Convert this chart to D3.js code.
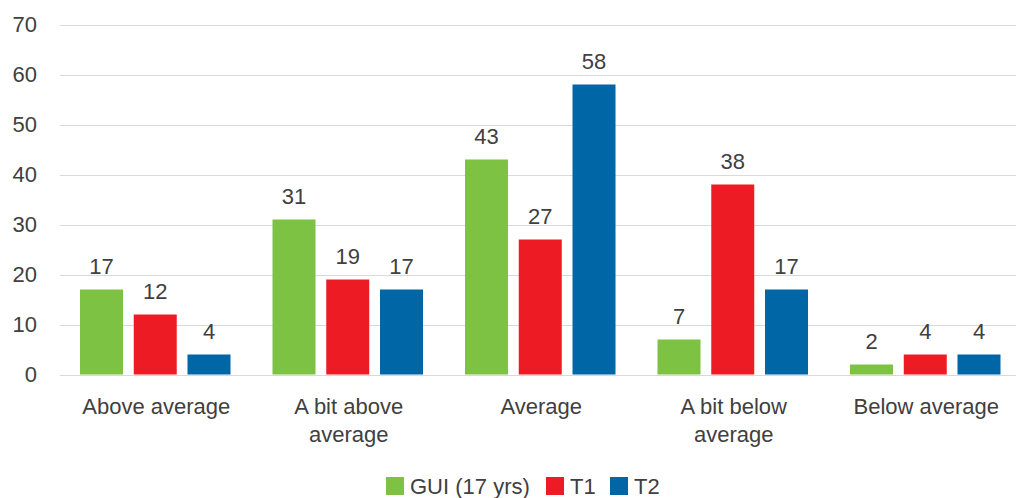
<!DOCTYPE html>
<html>
<head>
<meta charset="utf-8">
<script src="https://cdn.jsdelivr.net/npm/d3@7/dist/d3.min.js"></script>
<style>
  html, body { margin: 0; padding: 0; background: #fff; }
  text { font-family: "Liberation Sans", Arial, sans-serif; fill: #404040; }
</style>
</head>
<body>
<svg id="chart" width="1016" height="498"></svg>
<script>
// Self-assessment ratings by group
const categories = [["Above average"], ["A bit above", "average"], ["Average"], ["A bit below", "average"], ["Below average"]];
const seriesNames = ["GUI (17 yrs)", "T1", "T2"];
const seriesColors = ["#7dc242", "#ed1c24", "#0066a6"];
const gui = [17, 31, 43, 7, 2];
const t1 = [12, 19, 27, 38, 4];
const t2 = [4, 17, 58, 17, 4];
const yTicks = [0, 10, 20, 30, 40, 50, 60, 70];

const series = [gui, t1, t2];
const svg = d3.select("#chart");
const W = 1016, H = 498;
const plotLeft = 60, plotRight = 1022.5, plotTop = 24.5, plotBottom = 374.5;
const fontSize = "22px";

const x = d3.scaleBand().domain(d3.range(categories.length))
  .range([plotLeft, plotRight]).paddingInner(0).paddingOuter(0);
const xs = d3.scaleBand().domain(d3.range(series.length))
  .range([20, x.bandwidth() - 22]).paddingInner(0.2).paddingOuter(0);
const y = d3.scaleLinear().domain([0, 70]).range([plotBottom, plotTop]);

// gridlines
svg.append("g").selectAll("line").data(yTicks).join("line")
  .attr("x1", plotLeft).attr("x2", W)
  .attr("y1", d => Math.round(y(d)) + 0.5).attr("y2", d => Math.round(y(d)) + 0.5)
  .attr("stroke", "#d9d9d9").attr("stroke-width", 1);

// y-axis labels
const yAxis = d3.axisLeft(y).tickValues(yTicks).tickSize(0).tickPadding(0);
const yg = svg.append("g").attr("transform", `translate(37,0)`).call(yAxis);
yg.select(".domain").remove();
yg.selectAll("text").style("font-size", fontSize).attr("fill", "#404040")
  .style("font-family", "'Liberation Sans', Arial, sans-serif");

// bars and value labels
series.forEach((vals, si) => {
  const g = svg.append("g");
  g.selectAll("rect").data(vals).join("rect")
    .attr("x", (d, i) => x(i) + xs(si))
    .attr("width", xs.bandwidth())
    .attr("y", d => y(d))
    .attr("height", d => y(0) - y(d))
    .attr("fill", seriesColors[si]);
  g.selectAll("text").data(vals).join("text")
    .attr("x", (d, i) => x(i) + xs(si) + xs.bandwidth() / 2)
    .attr("y", d => y(d) - 16)
    .attr("text-anchor", "middle")
    .style("font-size", fontSize)
    .text(d => d);
});

// category labels
const cg = svg.append("g");
categories.forEach((lines, i) => {
  const cx = x(i) + x.bandwidth() / 2;
  const t = cg.append("text")
    .attr("x", cx)
    .attr("y", 414)
    .attr("text-anchor", "middle")
    .style("font-size", fontSize);
  lines.forEach((ln, li) => {
    t.append("tspan").attr("x", cx)
      .attr("dy", li === 0 ? 0 : 28).text(ln);
  });
});

// legend
const legendX = [386, 546, 610];
const lg = svg.append("g");
seriesNames.forEach((name, i) => {
  lg.append("rect").attr("x", legendX[i]).attr("y", 477)
    .attr("width", 18).attr("height", 18).attr("fill", seriesColors[i]);
  lg.append("text").attr("x", legendX[i] + 24).attr("y", 494)
    .style("font-size", fontSize).text(name);
});
</script>
</body>
</html>
